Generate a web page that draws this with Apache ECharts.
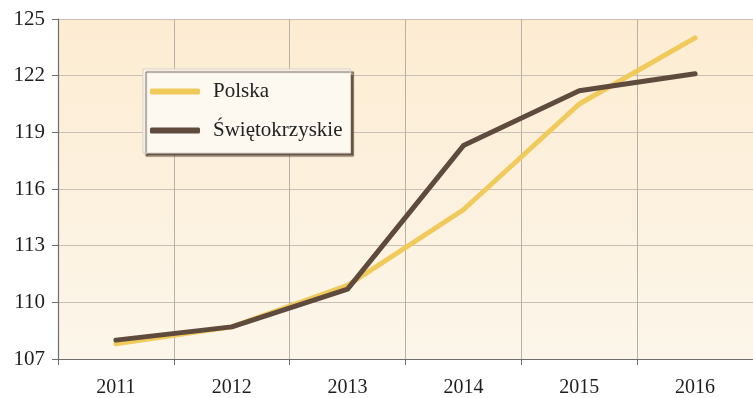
<!DOCTYPE html>
<html>
<head>
<meta charset="utf-8">
<script src="https://cdn.jsdelivr.net/npm/echarts@6/dist/echarts.min.js"></script>
<style>
  html, body { margin: 0; padding: 0; background: #ffffff; }
  #chart { width: 753px; height: 398px; }
</style>
</head>
<body>
<div id="chart"></div>
<script>
// Years on the horizontal axis
const years = ['2011', '2012', '2013', '2014', '2015', '2016'];
// Index values for the country and for the voivodeship
const polska = [107.8, 108.7, 110.9, 114.9, 120.5, 124.0];
const swietokrzyskie = [108.0, 108.7, 110.7, 118.3, 121.2, 122.1];
// Labelled values on the vertical axis
const yTicks = [107, 110, 113, 116, 119, 122, 125];

const chart = echarts.init(document.getElementById('chart'), null, { renderer: 'canvas' });

const serif = '"Liberation Serif", "Times New Roman", serif';

chart.setOption({
  animation: false,
  grid: {
    left: 58, right: -3, top: 19, bottom: 38,
    show: true,
    borderWidth: 0,
    backgroundColor: {
      type: 'linear', x: 0, y: 0, x2: 0, y2: 1,
      colorStops: [
        { offset: 0, color: '#fdecd2' },
        { offset: 1, color: '#fcf6ea' }
      ]
    }
  },
  legend: {
    orient: 'vertical',
    left: 143, top: 69,
    padding: [12, 8, 12, 7],
    itemGap: 18,
    itemWidth: 50,
    itemHeight: 6,
    icon: 'roundRect',
    backgroundColor: '#fdf9f1',
    borderColor: '#d9d2c8',
    borderWidth: 1,
    shadowColor: 'rgba(90,70,55,0.9)',
    shadowBlur: 1,
    shadowOffsetX: 3,
    shadowOffsetY: 3,
    textStyle: {
      fontFamily: serif, fontSize: 21, color: '#222',
      lineHeight: 20, padding: [0, 0, 0, 8]
    },
    data: ['Polska', 'Świętokrzyskie']
  },
  xAxis: {
    type: 'category',
    data: years,
    boundaryGap: true,
    axisLine: { lineStyle: { color: '#6e6e6e', width: 1.2 } },
    axisTick: { show: true, length: 6, lineStyle: { color: '#6e6e6e' } },
    axisLabel: { fontFamily: serif, fontSize: 20, color: '#1e1e1e', margin: 19 },
    splitLine: { show: true, lineStyle: { color: '#b9b1a7', width: 1 } }
  },
  yAxis: {
    type: 'value',
    min: 107, max: 125,
    axisLine: { show: true, lineStyle: { color: '#6e6e6e', width: 1.2 } },
    axisTick: { show: true, length: 6, customValues: yTicks, lineStyle: { color: '#6e6e6e' } },
    axisLabel: { customValues: yTicks, fontFamily: serif, fontSize: 21, color: '#1e1e1e', margin: 13 },
    splitLine: { show: true, lineStyle: { color: '#c9c0b5', width: 1.2 } }
  },
  series: [
    {
      name: 'Polska', type: 'line', data: polska,
      symbol: 'none', color: '#f1ca5c',
      lineStyle: { width: 5, color: '#f1ca5c', cap: 'round', join: 'round' },
      z: 2
    },
    {
      name: 'Świętokrzyskie', type: 'line', data: swietokrzyskie,
      symbol: 'none', color: '#5e4b3e',
      lineStyle: { width: 5, color: '#5e4b3e', cap: 'round', join: 'round' },
      z: 3
    }
  ]
});
</script>
</body>
</html>
